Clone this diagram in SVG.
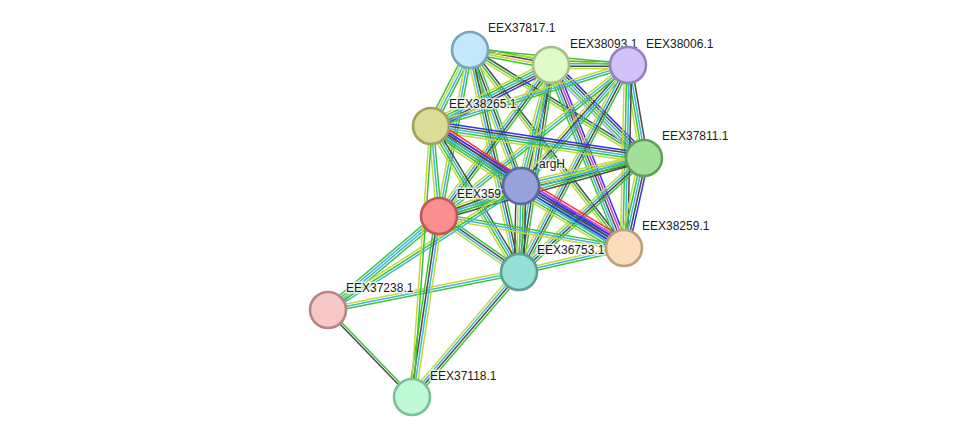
<svg xmlns="http://www.w3.org/2000/svg" width="976" height="443" viewBox="0 0 976 443">
<style>
.e path{fill:none;stroke-width:1.5}
.g{stroke:#3cc23c}.y{stroke:#c4d83c}.c{stroke:#3eb6d9}.k{stroke:#4a4a4a}.b{stroke:#3030ee}.m{stroke:#d43fd4}.r{stroke:#f33}.l{stroke:#a9a9f5}
.n circle{stroke-width:2.6}
.n text{font-family:"Liberation Sans",Arial,sans-serif;font-size:12px;fill:#1a1a1a;stroke:#fff;stroke-width:3;stroke-opacity:0.75;paint-order:stroke;stroke-linejoin:round}
</style>
<rect width="976" height="443" fill="#fff"/>
<g id="connectors" class="e">
<g transform="translate(470 50) rotate(10.49)"><path class="g" d="M0-3.6H82.4"/><path class="k" d="M0-1.2H82.4"/><path class="y" d="M0 1.2H82.4"/><path class="g" d="M0 3.6H82.4"/></g>
<g transform="translate(470 50) rotate(5.42)"><path class="g" d="M0-1.2H158.7"/><path class="y" d="M0 1.2H158.7"/></g>
<g transform="translate(470 50) rotate(117.17)"><path class="g" d="M0-3.6H85.4"/><path class="c" d="M0-1.2H85.4"/><path class="y" d="M0 1.2H85.4"/><path class="g" d="M0 3.6H85.4"/></g>
<g transform="translate(470 50) rotate(31.83)"><path class="k" d="M0-2.4H204.8"/><path class="g" d="M0 0H204.8"/><path class="y" d="M0 2.4H204.8"/></g>
<g transform="translate(470 50) rotate(69.44)"><path class="g" d="M0-3.6H145.2"/><path class="k" d="M0-1.2H145.2"/><path class="c" d="M0 1.2H145.2"/><path class="y" d="M0 3.6H145.2"/></g>
<g transform="translate(470 50) rotate(100.58)"><path class="g" d="M0-2.4H168.9"/><path class="c" d="M0 0H168.9"/><path class="y" d="M0 2.4H168.9"/></g>
<g transform="translate(470 50) rotate(52.13)"><path class="k" d="M0-2.4H250.8"/><path class="g" d="M0 0H250.8"/><path class="y" d="M0 2.4H250.8"/></g>
<g transform="translate(470 50) rotate(77.55)"><path class="g" d="M0-3.6H227.3"/><path class="k" d="M0-1.2H227.3"/><path class="c" d="M0 1.2H227.3"/><path class="y" d="M0 3.6H227.3"/></g>
<g transform="translate(551 65) rotate(0)"><path class="g" d="M0-3.6H77"/><path class="c" d="M0-1.2H77"/><path class="k" d="M0 1.2H77"/><path class="y" d="M0 3.6H77"/></g>
<g transform="translate(551 65) rotate(153.05)"><path class="b" d="M0-4.8H134.6"/><path class="k" d="M0-2.4H134.6"/><path class="c" d="M0 0H134.6"/><path class="g" d="M0 2.4H134.6"/><path class="y" d="M0 4.8H134.6"/></g>
<g transform="translate(551 65) rotate(45)"><path class="b" d="M0-4.8H131.5"/><path class="k" d="M0-2.4H131.5"/><path class="c" d="M0 0H131.5"/><path class="g" d="M0 2.4H131.5"/><path class="l" d="M0 4.8H131.5"/></g>
<g transform="translate(551 65) rotate(103.92)"><path class="k" d="M0-3.6H124.7"/><path class="g" d="M0-1.2H124.7"/><path class="c" d="M0 1.2H124.7"/><path class="y" d="M0 3.6H124.7"/></g>
<g transform="translate(551 65) rotate(126.56)"><path class="g" d="M0-3.6H188"/><path class="k" d="M0-1.2H188"/><path class="c" d="M0 1.2H188"/><path class="y" d="M0 3.6H188"/></g>
<g transform="translate(551 65) rotate(68.25)"><path class="b" d="M0-4.8H197"/><path class="m" d="M0-2.4H197"/><path class="k" d="M0 0H197"/><path class="c" d="M0 2.4H197"/><path class="g" d="M0 4.8H197"/></g>
<g transform="translate(551 65) rotate(98.79)"><path class="g" d="M0-3.6H209.5"/><path class="k" d="M0-1.2H209.5"/><path class="c" d="M0 1.2H209.5"/><path class="y" d="M0 3.6H209.5"/></g>
<g transform="translate(628 65) rotate(162.79)"><path class="g" d="M0-2.4H206.2"/><path class="c" d="M0 0H206.2"/><path class="y" d="M0 2.4H206.2"/></g>
<g transform="translate(628 65) rotate(80.24)"><path class="k" d="M0-3.6H94.4"/><path class="c" d="M0-1.2H94.4"/><path class="g" d="M0 1.2H94.4"/><path class="y" d="M0 3.6H94.4"/></g>
<g transform="translate(628 65) rotate(131.48)"><path class="g" d="M0-3.6H161.5"/><path class="c" d="M0-1.2H161.5"/><path class="k" d="M0 1.2H161.5"/><path class="y" d="M0 3.6H161.5"/></g>
<g transform="translate(628 65) rotate(141.38)"><path class="g" d="M0-2.4H241.9"/><path class="c" d="M0 0H241.9"/><path class="y" d="M0 2.4H241.9"/></g>
<g transform="translate(628 65) rotate(91.25)"><path class="k" d="M0-3.6H183"/><path class="c" d="M0-1.2H183"/><path class="g" d="M0 1.2H183"/><path class="y" d="M0 3.6H183"/></g>
<g transform="translate(628 65) rotate(117.77)"><path class="g" d="M0-3.6H233.9"/><path class="k" d="M0-1.2H233.9"/><path class="c" d="M0 1.2H233.9"/><path class="y" d="M0 3.6H233.9"/></g>
<g transform="translate(431 126) rotate(8.54)"><path class="b" d="M0-4.8H215.4"/><path class="k" d="M0-2.4H215.4"/><path class="c" d="M0 0H215.4"/><path class="g" d="M0 2.4H215.4"/><path class="y" d="M0 4.8H215.4"/></g>
<g transform="translate(431 126) rotate(33.69)"><path class="r" d="M0-7.2H108.2"/><path class="m" d="M0-4.8H108.2"/><path class="b" d="M0-2.4H108.2"/><path class="k" d="M0 0H108.2"/><path class="c" d="M0 2.4H108.2"/><path class="g" d="M0 4.8H108.2"/><path class="y" d="M0 7.2H108.2"/></g>
<g transform="translate(431 126) rotate(84.92)"><path class="g" d="M0-2.4H90.4"/><path class="c" d="M0 0H90.4"/><path class="y" d="M0 2.4H90.4"/></g>
<g transform="translate(431 126) rotate(32.29)"><path class="b" d="M0-3.6H228.3"/><path class="k" d="M0-1.2H228.3"/><path class="c" d="M0 1.2H228.3"/><path class="g" d="M0 3.6H228.3"/></g>
<g transform="translate(431 126) rotate(58.92)"><path class="k" d="M0-3.6H170.5"/><path class="c" d="M0-1.2H170.5"/><path class="g" d="M0 1.2H170.5"/><path class="y" d="M0 3.6H170.5"/></g>
<g transform="translate(644 158) rotate(167.18)"><path class="k" d="M0-3.6H126.1"/><path class="g" d="M0-1.2H126.1"/><path class="c" d="M0 1.2H126.1"/><path class="y" d="M0 3.6H126.1"/></g>
<g transform="translate(644 158) rotate(164.2)"><path class="k" d="M0-3.6H213"/><path class="g" d="M0-1.2H213"/><path class="c" d="M0 1.2H213"/><path class="y" d="M0 3.6H213"/></g>
<g transform="translate(644 158) rotate(102.53)"><path class="b" d="M0-4.8H92.2"/><path class="k" d="M0-2.4H92.2"/><path class="c" d="M0 0H92.2"/><path class="g" d="M0 2.4H92.2"/><path class="y" d="M0 4.8H92.2"/></g>
<g transform="translate(644 158) rotate(137.63)"><path class="g" d="M0-3.6H169.2"/><path class="k" d="M0-1.2H169.2"/><path class="c" d="M0 1.2H169.2"/><path class="y" d="M0 3.6H169.2"/></g>
<g transform="translate(521 186) rotate(159.91)"><path class="g" d="M0-3.6H87.3"/><path class="c" d="M0-1.2H87.3"/><path class="k" d="M0 1.2H87.3"/><path class="y" d="M0 3.6H87.3"/></g>
<g transform="translate(521 186) rotate(31.04)"><path class="r" d="M0-8.4H120.2"/><path class="m" d="M0-6H120.2"/><path class="b" d="M0-3.6H120.2"/><path class="k" d="M0-1.2H120.2"/><path class="b" d="M0 1.2H120.2"/><path class="c" d="M0 3.6H120.2"/><path class="g" d="M0 6H120.2"/><path class="y" d="M0 8.4H120.2"/></g>
<g transform="translate(521 186) rotate(91.33)"><path class="k" d="M0-4.8H86"/><path class="g" d="M0-2.4H86"/><path class="c" d="M0 0H86"/><path class="y" d="M0 2.4H86"/><path class="k" d="M0 4.8H86"/></g>
<g transform="translate(439 216) rotate(9.81)"><path class="g" d="M0-2.4H187.7"/><path class="c" d="M0 0H187.7"/><path class="y" d="M0 2.4H187.7"/></g>
<g transform="translate(439 216) rotate(34.99)"><path class="g" d="M0-3.6H97.7"/><path class="k" d="M0-1.2H97.7"/><path class="c" d="M0 1.2H97.7"/><path class="y" d="M0 3.6H97.7"/></g>
<g transform="translate(624 248) rotate(167.12)"><path class="g" d="M0-2.4H107.7"/><path class="c" d="M0 0H107.7"/><path class="y" d="M0 2.4H107.7"/></g>
<g transform="translate(328 310) rotate(-40.26)"><path class="g" d="M0-3.6H145.5"/><path class="c" d="M0-1.2H145.5"/><path class="c" d="M0 1.2H145.5"/><path class="g" d="M0 3.6H145.5"/></g>
<g transform="translate(328 310) rotate(-32.72)"><path class="y" d="M0-2.4H229.4"/><path class="g" d="M0 0H229.4"/><path class="c" d="M0 2.4H229.4"/></g>
<g transform="translate(328 310) rotate(-11.25)"><path class="y" d="M0-2.4H194.7"/><path class="c" d="M0 0H194.7"/><path class="g" d="M0 2.4H194.7"/></g>
<g transform="translate(328 310) rotate(46.01)"><path class="g" d="M0-1.2H120.9"/><path class="k" d="M0 1.2H120.9"/></g>
<g transform="translate(412 397) rotate(-81.52)"><path class="g" d="M0-3.6H183"/><path class="k" d="M0-1.2H183"/><path class="c" d="M0 1.2H183"/><path class="y" d="M0 3.6H183"/></g>
<g transform="translate(412 397) rotate(-85.99)"><path class="y" d="M0-1.2H271.7"/><path class="g" d="M0 1.2H271.7"/></g>
<g transform="translate(412 397) rotate(-49.44)"><path class="y" d="M0-3.6H164.5"/><path class="c" d="M0-1.2H164.5"/><path class="k" d="M0 1.2H164.5"/><path class="g" d="M0 3.6H164.5"/></g>
</g>
<g id="EEX37817.1" class="n"><circle cx="470" cy="50" r="18" fill="#c2e8fb" stroke="#7ca3be"/><text x="488" y="32">EEX37817.1</text></g>
<g id="EEX38093.1" class="n"><circle cx="551" cy="65" r="18" fill="#e0fbc6" stroke="#a3bf88"/><text x="570" y="48">EEX38093.1</text></g>
<g id="EEX38006.1" class="n"><circle cx="628" cy="65" r="18" fill="#d1c3f9" stroke="#9680c0"/><text x="646" y="48">EEX38006.1</text></g>
<g id="EEX38265.1" class="n"><circle cx="431" cy="126" r="18" fill="#dedb97" stroke="#a19f5c"/><text x="449" y="108">EEX38265.1</text></g>
<g id="EEX37811.1" class="n"><circle cx="644" cy="158" r="18" fill="#a2e09a" stroke="#62a05a"/><text x="662" y="140">EEX37811.1</text></g>
<g id="EEX359" class="n"><circle cx="439" cy="216" r="18" fill="#fb8e8e" stroke="#c05858"/><text x="457" y="198">EEX359</text></g>
<g id="argH" class="n"><circle cx="521" cy="186" r="18" fill="#98a1da" stroke="#5d67a3"/><text x="539" y="168">argH</text></g>
<g id="EEX38259.1" class="n"><circle cx="624" cy="248" r="18" fill="#fddcbd" stroke="#bc9d7e"/><text x="642" y="230">EEX38259.1</text></g>
<g id="EEX36753.1" class="n"><circle cx="519" cy="272" r="18" fill="#95dfd5" stroke="#5b9f96"/><text x="537" y="254">EEX36753.1</text></g>
<g id="EEX37238.1" class="n"><circle cx="328" cy="310" r="18" fill="#f7c8c8" stroke="#b88484"/><text x="346" y="292">EEX37238.1</text></g>
<g id="EEX37118.1" class="n"><circle cx="412" cy="397" r="18" fill="#bdfad5" stroke="#7fbe9a"/><text x="430" y="380">EEX37118.1</text></g>
</svg>
